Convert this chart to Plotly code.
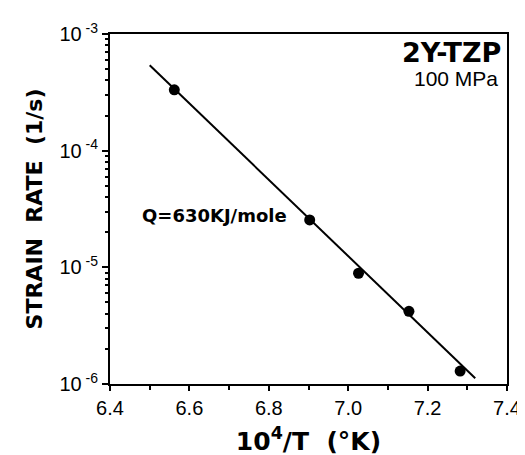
import plotly.graph_objects as go

# Data
inv_T = [6.562, 6.903, 7.026, 7.153, 7.282]
strain_rate = [3.32e-4, 2.55e-5, 8.9e-6, 4.2e-6, 1.29e-6]

fit_x = [6.50, 7.32]
fit_y = [5.4e-4, 1.12e-6]

x_ticks = [6.4, 6.6, 6.8, 7.0, 7.2, 7.4]
y_ticks = [1e-6, 1e-5, 1e-4, 1e-3]
y_ticktext = ["10<sup> -6</sup>", "10<sup> -5</sup>", "10<sup> -4</sup>", "10<sup> -3</sup>"]
y_minor = [m * 10.0 ** e for e in (-6, -5, -4) for m in range(2, 10)]

fig = go.Figure()
fig.add_trace(go.Scatter(x=fit_x, y=fit_y, mode="lines",
                         line=dict(color="black", width=2), showlegend=False))
fig.add_trace(go.Scatter(x=inv_T, y=strain_rate, mode="markers",
                         marker=dict(color="black", size=11), showlegend=False))

fig.update_layout(
    width=525, height=455,
    margin=dict(l=102, r=16, t=21, b=77),
    plot_bgcolor="white", paper_bgcolor="white",
    font=dict(family="Liberation Sans", color="black"),
    xaxis=dict(range=[6.4, 7.4], tickvals=x_ticks, tickformat=".1f",
               showline=True, linewidth=2, linecolor="black", mirror=True,
               ticks="outside", ticklen=5, tickwidth=2, tickcolor="black",
               minor=dict(dtick=0.1, ticks="outside", ticklen=4, tickwidth=2, tickcolor="black"),
               showgrid=False, zeroline=False,
               tickfont=dict(size=20, family="Liberation Sans"),
               title=dict(text="10<sup>4</sup>/T  (°K)", standoff=14,
                          font=dict(size=25, family="DejaVu Sans", weight="bold"))),
    yaxis=dict(type="log", range=[-6, -3], tickvals=y_ticks, ticktext=y_ticktext,
               showline=True, linewidth=2, linecolor="black", mirror=True,
               ticks="outside", ticklen=6, tickwidth=2, tickcolor="black",
               minor=dict(tickvals=y_minor, ticks="outside", ticklen=3, tickwidth=1.5, tickcolor="black"),
               showgrid=False, zeroline=False,
               tickfont=dict(size=20, family="Liberation Sans"),
               title=dict(text="STRAIN  RATE  (1/s)", standoff=11,
                          font=dict(size=22, family="DejaVu Sans", weight="bold"))),
    annotations=[
        dict(x=6.476, y=-4.555, xref="x", yref="y", text="Q=630KJ/mole", showarrow=False,
             xanchor="left", yanchor="middle",
             font=dict(size=18, family="DejaVu Sans", weight="bold")),
        dict(x=0.99, y=40, xref="paper", yref="paper", text="2Y-TZP", showarrow=False,
             xanchor="right", yanchor="middle",
             font=dict(size=27, family="DejaVu Sans", weight="bold")),
        dict(x=0.983, y=66, xref="paper", yref="paper", text="100 MPa", showarrow=False,
             xanchor="right", yanchor="middle",
             font=dict(size=21, family="Liberation Sans")),
    ],
)

# convert pixel y positions for corner labels into paper coords
plot_top, plot_bottom = 21, 378
for ann in fig.layout.annotations[1:]:
    ann.y = (plot_bottom - ann.y) / (plot_bottom - plot_top)

fig.write_html("out.html")
